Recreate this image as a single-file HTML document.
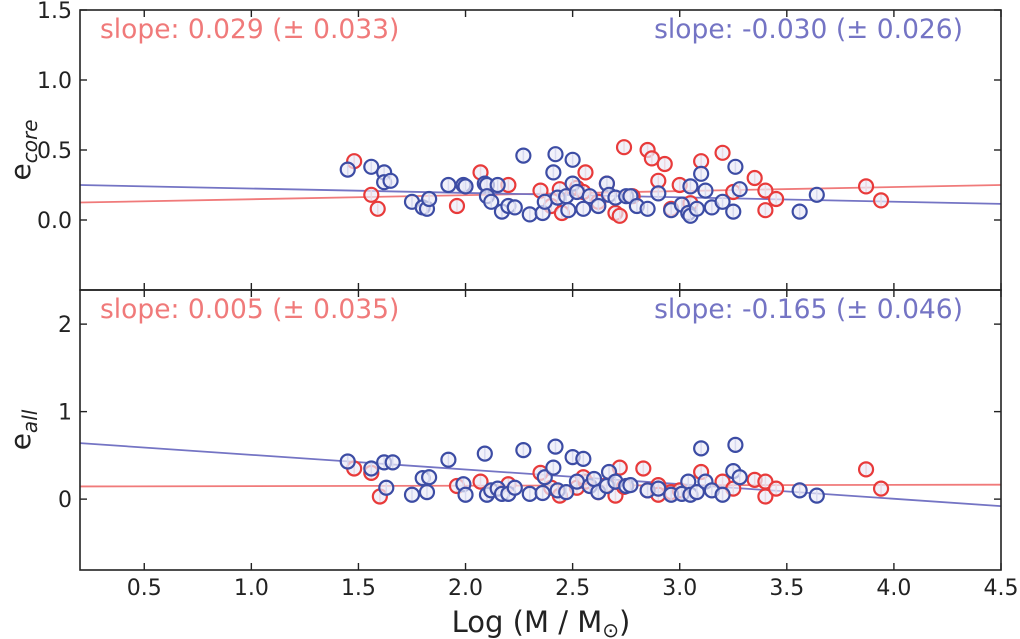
<!DOCTYPE html>
<html><head><meta charset="utf-8"><style>
html,body{margin:0;padding:0;background:#fff;}
svg{display:block;font-family:"DejaVu Sans","Liberation Sans",sans-serif;}
</style></head><body>
<svg id="chart" width="1020" height="639" viewBox="0 0 1020 639"></svg>
<script>
const xTicks=[0.5,1.0,1.5,2.0,2.5,3.0,3.5,4.0,4.5];
const topTicks=[0.0,0.5,1.0,1.5];
const botTicks=[0,1,2];
const topRed=[[1.48,0.42],[1.56,0.18],[1.59,0.08],[1.96,0.10],[2.07,0.34],[2.2,0.25],[2.35,0.21],[2.4,0.1],[2.44,0.22],[2.52,0.23],[2.56,0.34],[2.62,0.13],[2.66,0.26],[2.7,0.05],[2.74,0.52],[2.72,0.03],[2.78,0.17],[2.85,0.5],[2.87,0.44],[2.93,0.4],[2.9,0.28],[2.96,0.08],[3.0,0.25],[3.1,0.42],[3.2,0.48],[3.25,0.2],[3.35,0.3],[3.4,0.21],[3.4,0.07],[3.45,0.15],[3.87,0.24],[3.94,0.14],[2.55,0.2],[3.05,0.12],[2.45,0.05]];
const topBlue=[[1.45,0.36],[1.56,0.38],[1.62,0.34],[1.62,0.27],[1.65,0.28],[1.75,0.13],[1.8,0.09],[1.82,0.08],[1.83,0.15],[1.92,0.25],[1.99,0.25],[2.0,0.24],[2.09,0.26],[2.1,0.25],[2.1,0.17],[2.12,0.13],[2.15,0.25],[2.17,0.06],[2.2,0.1],[2.23,0.09],[2.27,0.46],[2.3,0.04],[2.36,0.05],[2.37,0.13],[2.41,0.34],[2.42,0.47],[2.43,0.16],[2.47,0.17],[2.5,0.26],[2.5,0.43],[2.52,0.2],[2.48,0.07],[2.55,0.08],[2.58,0.17],[2.62,0.1],[2.66,0.26],[2.67,0.18],[2.7,0.16],[2.75,0.17],[2.77,0.17],[2.8,0.1],[2.85,0.08],[2.9,0.19],[2.96,0.07],[3.01,0.11],[3.04,0.05],[3.05,0.24],[3.05,0.03],[3.08,0.08],[3.1,0.33],[3.12,0.21],[3.15,0.09],[3.2,0.13],[3.25,0.06],[3.26,0.38],[3.28,0.22],[3.56,0.06],[3.64,0.18]];
const botRed=[[1.48,0.35],[1.56,0.3],[1.6,0.03],[1.96,0.15],[2.07,0.2],[2.2,0.17],[2.35,0.3],[2.4,0.13],[2.44,0.04],[2.52,0.13],[2.56,0.2],[2.62,0.08],[2.66,0.16],[2.7,0.04],[2.72,0.36],[2.74,0.14],[2.83,0.35],[2.85,0.1],[2.9,0.16],[2.96,0.08],[3.0,0.1],[3.1,0.31],[3.2,0.2],[3.25,0.12],[3.35,0.22],[3.4,0.2],[3.4,0.03],[3.45,0.12],[3.87,0.34],[3.94,0.12],[2.55,0.25],[2.9,0.05]];
const botBlue=[[1.45,0.43],[1.56,0.35],[1.62,0.42],[1.63,0.13],[1.66,0.42],[1.75,0.05],[1.8,0.24],[1.82,0.08],[1.83,0.25],[1.92,0.45],[1.99,0.17],[2.0,0.05],[2.09,0.52],[2.1,0.05],[2.12,0.1],[2.15,0.12],[2.17,0.06],[2.2,0.06],[2.23,0.13],[2.27,0.56],[2.3,0.06],[2.36,0.07],[2.37,0.25],[2.41,0.36],[2.42,0.6],[2.43,0.1],[2.47,0.08],[2.5,0.48],[2.52,0.2],[2.55,0.46],[2.58,0.15],[2.6,0.23],[2.62,0.08],[2.66,0.15],[2.67,0.31],[2.7,0.2],[2.75,0.15],[2.77,0.16],[2.85,0.1],[2.9,0.12],[2.96,0.05],[3.01,0.06],[3.04,0.2],[3.05,0.05],[3.08,0.08],[3.1,0.58],[3.12,0.2],[3.15,0.1],[3.2,0.05],[3.25,0.32],[3.26,0.62],[3.28,0.25],[3.56,0.1],[3.64,0.04]];
const topRedFit=[0.125,0.25];
const topBlueFit=[0.25,0.115];
const botRedFit=[0.145,0.165];
const botBlueFit=[0.64,-0.08];
const slopeLabels=["slope: 0.029 (± 0.033)","slope: -0.030 (± 0.026)","slope: 0.005 (± 0.035)","slope: -0.165 (± 0.046)"];

const NS="http://www.w3.org/2000/svg";
const svg=document.getElementById('chart');
const L=80,R=1001;
const xMin=0.2,xMax=4.5;
const X=v=>L+(v-xMin)/(xMax-xMin)*(R-L);
const panels=[
 {name:'top',top:10,bot:290,min:-0.5,max:1.5,ticks:topTicks,red:topRed,blue:topBlue,rf:topRedFit,bf:topBlueFit,err:0.04,lab:['e','core'],labs:[slopeLabels[0],slopeLabels[1]],fmt:v=>v.toFixed(1)},
 {name:'bottom',top:290,bot:570,min:-0.81,max:2.39,ticks:botTicks,red:botRed,blue:botBlue,rf:botRedFit,bf:botBlueFit,err:0.08,lab:['e','all'],labs:[slopeLabels[2],slopeLabels[3]],fmt:v=>String(v)}
];
function mk(t,a,p){const e=document.createElementNS(NS,t);for(const k in a)e.setAttribute(k,a[k]);(p||svg).appendChild(e);return e;}
panels.forEach(P=>{
 const Y=v=>P.bot-(v-P.min)/(P.max-P.min)*(P.bot-P.top);
 const g=mk('g',{});
 
 
 const cp='clip-'+P.name;
 const c=mk('clipPath',{id:cp},g);mk('rect',{x:L,y:P.top,width:R-L,height:P.bot-P.top},c);
 const plot=mk('g',{'clip-path':'url(#'+cp+')'},g);
 [[P.rf,'#f07a7a','red'],[P.bf,'#7474c4','blue']].forEach(([f,col,n])=>{
  const ln=mk('line',{x1:X(xMin),y1:Y(f[0]),x2:X(xMax),y2:Y(f[1]),stroke:col,'stroke-width':1.8},plot);
  
  
 });
 [[P.red,'#e83a3a','#f4aaaa','red'],[P.blue,'#3c4ca4','#a8b0dc','blue']].forEach(([d,col,ecol,n])=>{
  d.forEach(p=>{
   const cx=X(p[0]),cy=Y(p[1]);
   const eb=mk('line',{x1:cx,x2:cx,y1:Y(p[1]+P.err),y2:Y(p[1]-P.err),stroke:ecol,'stroke-width':1.5},plot);
   
   
   const m=mk('circle',{cx:cx,cy:cy,r:7,fill:'rgba(235,235,248,0.7)',stroke:col,'stroke-width':2.2},plot);
   
   
  });
 });
 const fr=mk('rect',{x:L,y:P.top,width:R-L,height:P.bot-P.top,fill:'none',stroke:'#222','stroke-width':1.6},g);
 
 
 P.ticks.forEach(t=>{
  const y=Y(t);
  mk('line',{x1:L,x2:L+7,y1:y,y2:y,stroke:'#222','stroke-width':1.4},g);
  mk('line',{x1:R,x2:R-7,y1:y,y2:y,stroke:'#222','stroke-width':1.4},g);
  const tx=mk('text',{x:L-8,y:y+8,'text-anchor':'end','font-size':22,fill:'#222'},g);
  tx.textContent=P.fmt(t);
  
  
 });
 xTicks.forEach(t=>{
  const x=X(t);
  mk('line',{x1:x,x2:x,y1:P.bot,y2:P.bot-7,stroke:'#222','stroke-width':1.4},g);
  mk('line',{x1:x,x2:x,y1:P.top,y2:P.top+7,stroke:'#222','stroke-width':1.4},g);
 });
 const midY=(P.top+P.bot)/2;
 const yl=mk('text',{x:0,y:0,transform:'translate(30,'+midY+') rotate(-90)','text-anchor':'middle','font-size':28,fill:'#222'},g);
 yl.innerHTML=P.lab[0]+'<tspan font-size="20" dy="7" font-style="italic">'+P.lab[1]+'</tspan>';
 
 
 const s1=mk('text',{x:100,y:P.top+28,'font-size':26.5,fill:'#f07a7a'},g);s1.textContent=P.labs[0];
 
 
 const s2=mk('text',{x:963,y:P.top+28,'text-anchor':'end','font-size':26.5,fill:'#7474c4'},g);s2.textContent=P.labs[1];
 
 
});
xTicks.forEach(t=>{
 const tx=mk('text',{x:X(t),y:595,'text-anchor':'middle','font-size':22,fill:'#222'});
 tx.textContent=t.toFixed(1);
 
 
});
const xt=mk('text',{x:541,y:632,'text-anchor':'middle','font-size':29,fill:'#222'});
xt.innerHTML='Log (M / M<tspan font-size="20" dy="5">⊙</tspan><tspan dy="-5">)</tspan>';


</script>
</body></html>
